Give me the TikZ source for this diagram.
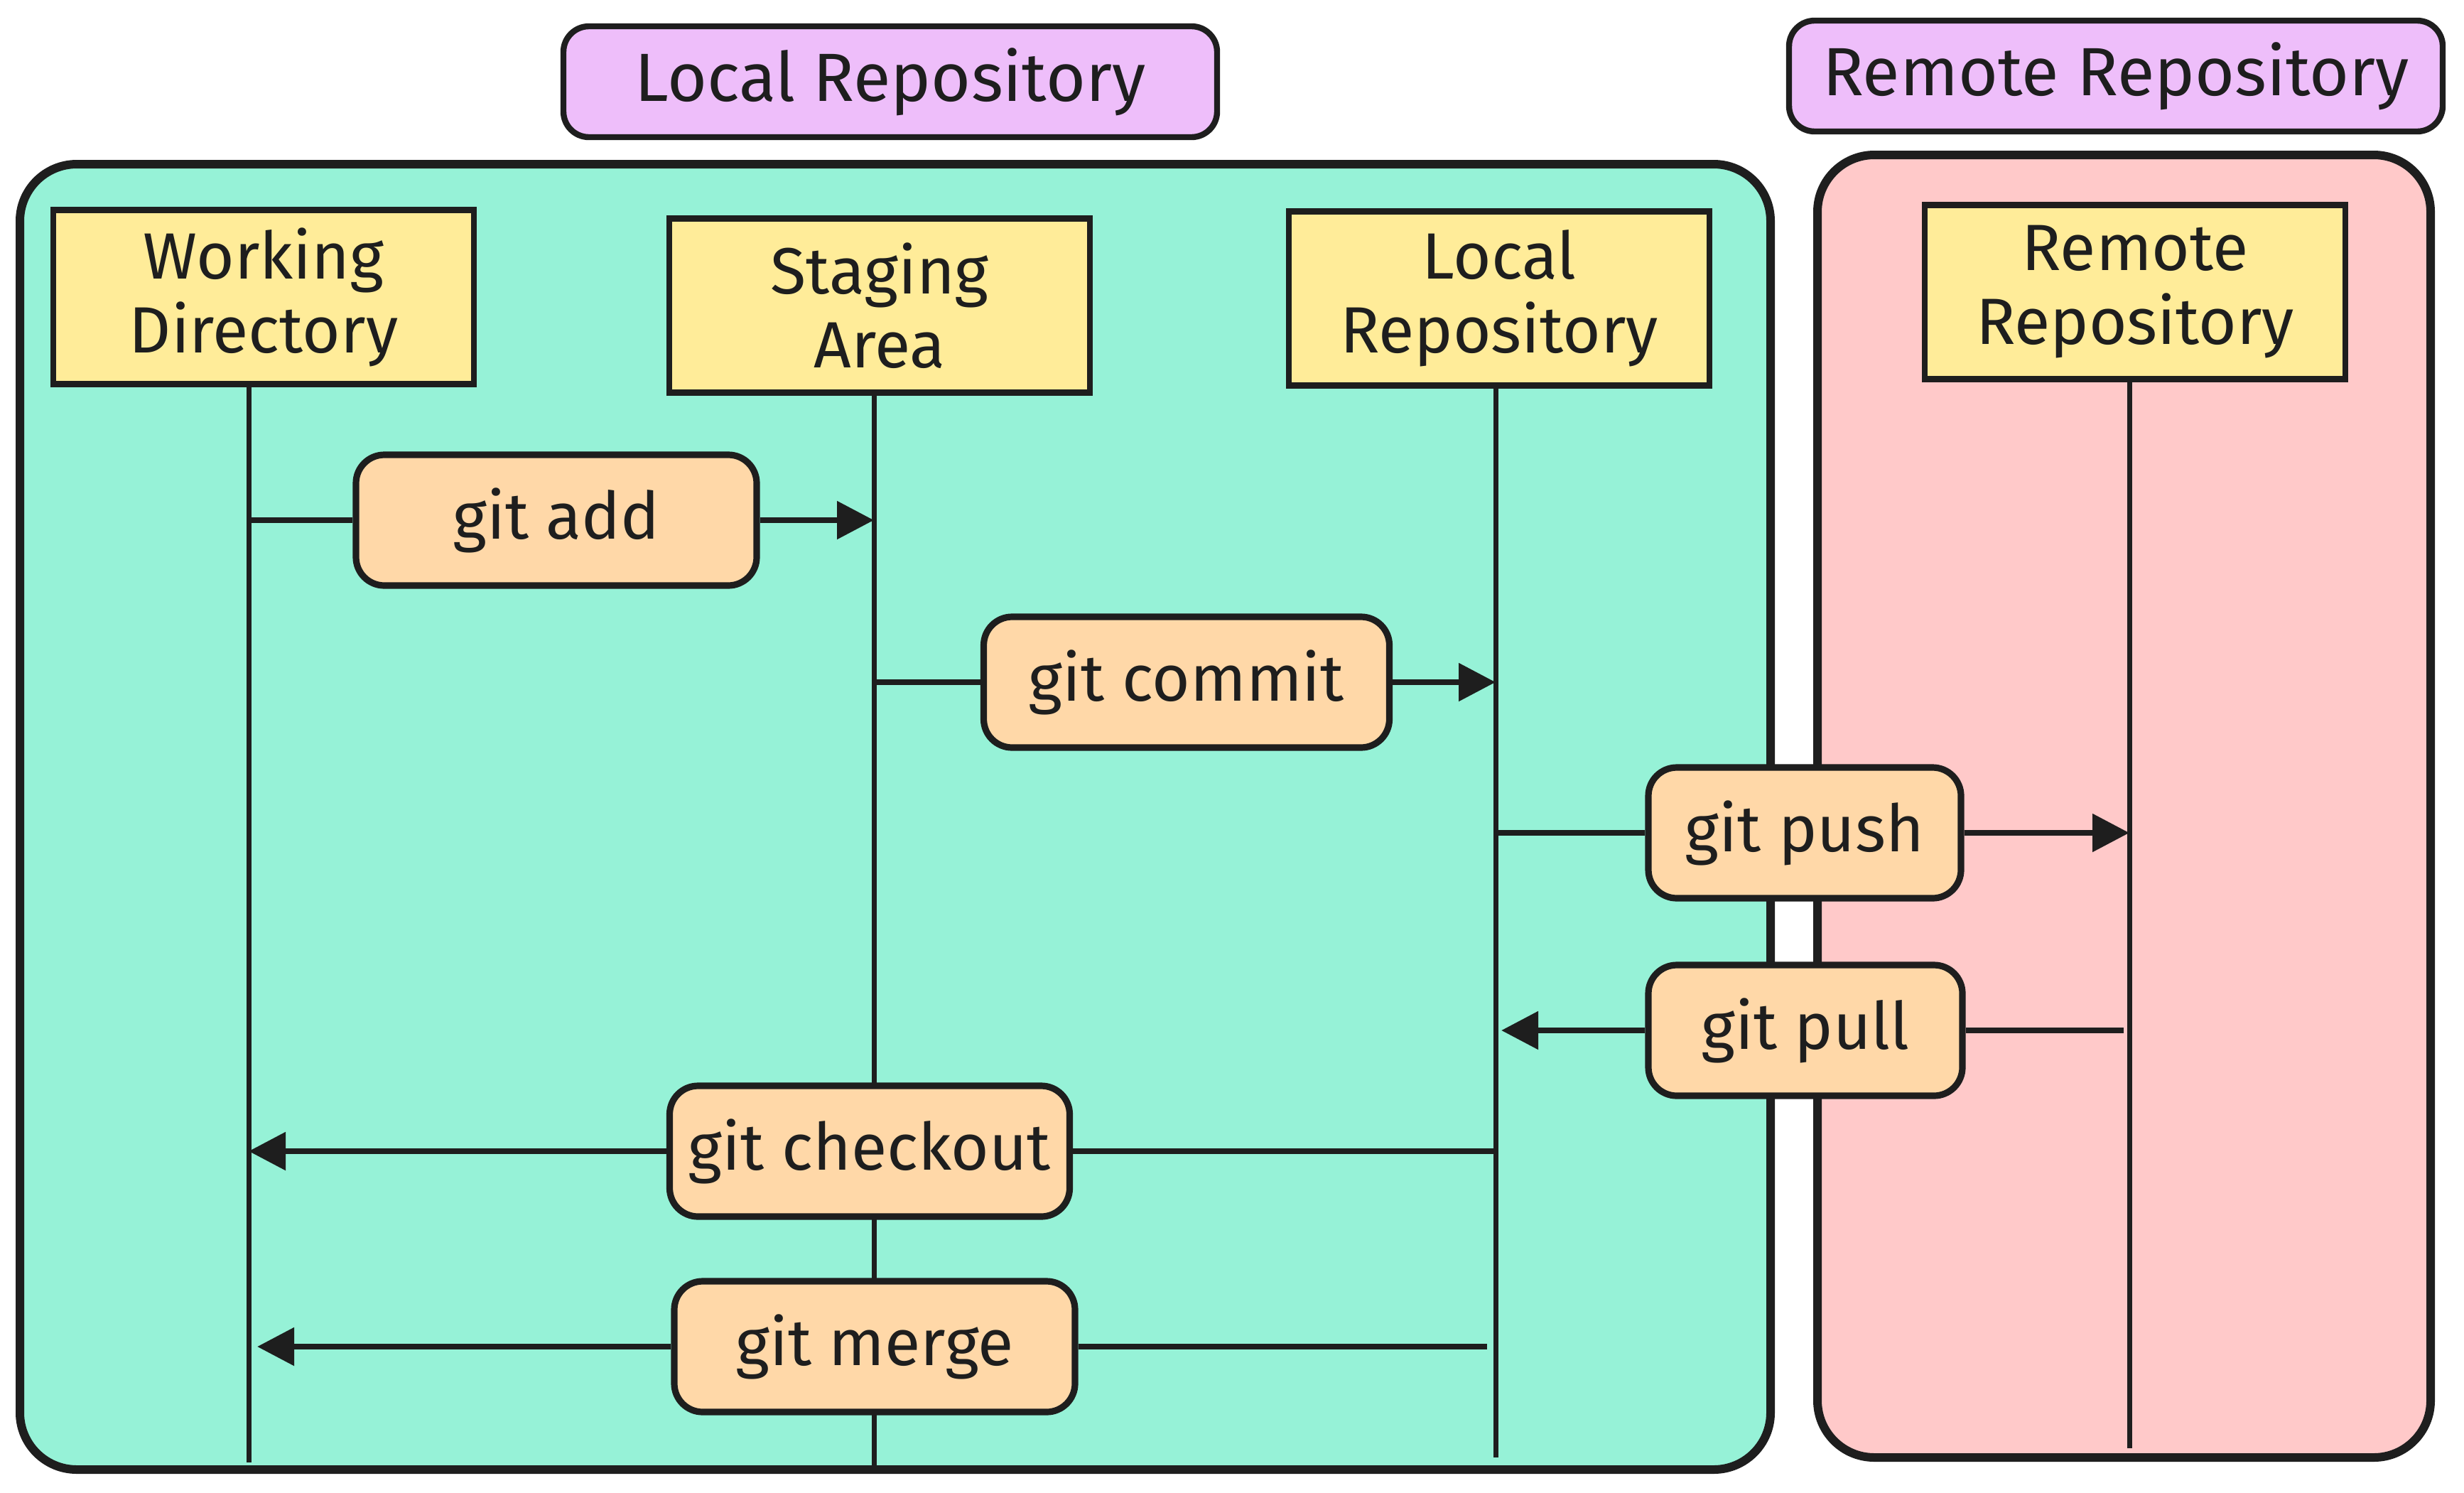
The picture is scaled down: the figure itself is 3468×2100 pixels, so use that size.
\documentclass[tikz,border=0pt]{standalone}
\usepackage{fontspec}
\setmainfont{Fira Sans}
\usetikzlibrary{arrows.meta}
\pgfdeclarelayer{back}
\pgfdeclarelayer{mid}
\pgfsetlayers{back,mid,main}
\definecolor{ink}{HTML}{1E1E1E}
\definecolor{greenc}{HTML}{96F2D7}
\definecolor{pinkc}{HTML}{FFC9C9}
\definecolor{yellowc}{HTML}{FFEC99}
\definecolor{orangec}{HTML}{FFD8A8}
\definecolor{purplec}{HTML}{EEBEFA}
\tikzset{
  container/.style={draw=ink, line width=3pt, rounded corners=20pt},
  participantbox/.style={draw=ink, fill=yellowc, line width=2.1pt, minimum width=148pt, minimum height=61.25pt, align=center, inner sep=0pt, text=ink, font=\fontsize{23}{26}\selectfont},
  msglabel/.style={draw=ink, fill=orangec, line width=2.3pt, rounded corners=10pt, minimum height=46pt, inner sep=0pt, text=ink, font=\fontsize{23}{27}\selectfont},
  titlebox/.style={draw=ink, fill=purplec, line width=2.1pt, rounded corners=9pt, minimum width=230pt, minimum height=39pt, inner sep=0pt, text=ink, font=\fontsize{24}{28}\selectfont},
  lifeline/.style={draw=ink, line width=1.75pt},
  msgline/.style={draw=ink, line width=2.2pt},
  msgarrow/.style={msgline, -{Triangle[length=13pt,width=13pt]}}
}
\begin{document}
\begin{tikzpicture}[x=0.25pt,y=-0.25pt]
\useasboundingbox (0,0) rectangle (3468,2100);
\begin{pgfonlayer}{back}
  \fill[white] (0,0) rectangle (3468,2100);
  \draw[container, fill=greenc] (28,231) rectangle (2492,2068);
  \draw[container, fill=pinkc] (2558,218) rectangle (3421,2051);
\end{pgfonlayer}

% titles
\node[titlebox] (ltitle) at (1253,115) {Local Repository};
\node[titlebox] (rtitle) at (2978,107) {Remote Repository};

% participants
\node[participantbox] (wd) at (371,418) {Working\\Directory};
\node[participantbox] (sa) at (1238,430) {Staging\\Area};
\node[participantbox] (lr) at (2110,420) {Local\\Repository};
\node[participantbox] (rr) at (3005,411) {Remote\\Repository};

% lifeline ends
\coordinate (wdb) at (350,2058);
\coordinate (sab) at (1230,2068);
\coordinate (lrb) at (2105,2051);
\coordinate (rrb) at (2997,2038);

% message labels
\node[msglabel, minimum width=141pt] (add) at (783,732) {git add};
\node[msglabel, minimum width=142.75pt] (commit) at (1670,960) {git commit};
\node[msglabel, minimum width=110pt] (push) at (2540,1172) {git push};
\node[msglabel, minimum width=110.5pt] (pull) at (2541,1450) {git pull};
\node[msglabel, minimum width=140.75pt] (checkout) at (1224,1620) {git checkout};
\node[msglabel, minimum width=141pt] (merge) at (1231,1895) {git merge};

\begin{pgfonlayer}{mid}
  \draw[lifeline] (wdb |- wd.south) -- (wdb);
  \draw[lifeline] (sab |- sa.south) -- (sab);
  \draw[lifeline] (lrb |- lr.south) -- (lrb);
  \draw[lifeline] (rrb |- rr.south) -- (rrb);

  \draw[msgline] (wdb |- add.west) -- (add.west);
  \draw[msgarrow] (add.east) -- (sab |- add.east);

  \draw[msgline] (sab |- commit.west) -- (commit.west);
  \draw[msgarrow] (commit.east) -- (lrb |- commit.east);

  \draw[msgline] (lrb |- push.west) -- (push.west);
  \draw[msgarrow] (push.east) -- (rrb |- push.east);

  \draw[msgline, shorten <=2pt] (rrb |- pull.east) -- (pull.east);
  \draw[msgarrow, shorten >=2pt] (pull.west) -- (lrb |- pull.west);

  \draw[msgline] (lrb |- checkout.east) -- (checkout.east);
  \draw[msgarrow] (checkout.west) -- (wdb |- checkout.west);

  \draw[msgline, shorten <=3pt] (lrb |- merge.east) -- (merge.east);
  \draw[msgarrow, shorten >=3pt] (merge.west) -- (wdb |- merge.west);
\end{pgfonlayer}
\end{tikzpicture}
\end{document}
